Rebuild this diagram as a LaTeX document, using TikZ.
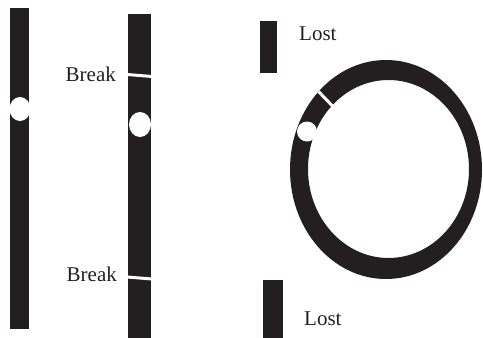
\documentclass[tikz,border=0pt]{standalone}
\usepackage{fontspec}
\setmainfont{Liberation Serif}
\definecolor{ink}{HTML}{231F20}
\begin{document}
\begin{tikzpicture}[x=1pt,y=-1pt,
  lbl/.style={inner sep=0pt,anchor=base west,text=ink,font=\fontsize{21}{24}\selectfont},
  gap/.style={draw=white,line width=3pt},
  hole/.style={fill=white}]
\useasboundingbox (0,0) rectangle (483,338);
% bar 1
\fill[ink] (10,8) rectangle (29,329);
\fill[hole] (20,109) ellipse [x radius=10.5, y radius=12];
% bar 2
\fill[ink] (128,14) rectangle (151,338);
\draw[gap] (127,74.5) -- (152,76.5);
\draw[gap] (127,277) -- (152,279);
\fill[hole] (140,124.5) ellipse [x radius=11, y radius=12.5];
\node[lbl] (b1) at (65.5,81.7) {Break};
\node[lbl] (b2) at (66.5,281.5) {Break};
% lost pieces
\fill[ink] (260,21) rectangle (277,73);
\fill[ink] (263,280) rectangle (283,338);
\node[lbl] (l1) at (299,40) {Lost};
\node[lbl] (l2) at (304,325) {Lost};
% ring
\fill[ink,even odd rule] (386,169.5) ellipse [x radius=96, y radius=109.5]
  (388.5,169) ellipse [x radius=80.5, y radius=89];
\draw[gap] (318.5,91.5) -- (332.5,106);
\fill[hole] (307,131.5) circle (10);
\end{tikzpicture}
\end{document}
